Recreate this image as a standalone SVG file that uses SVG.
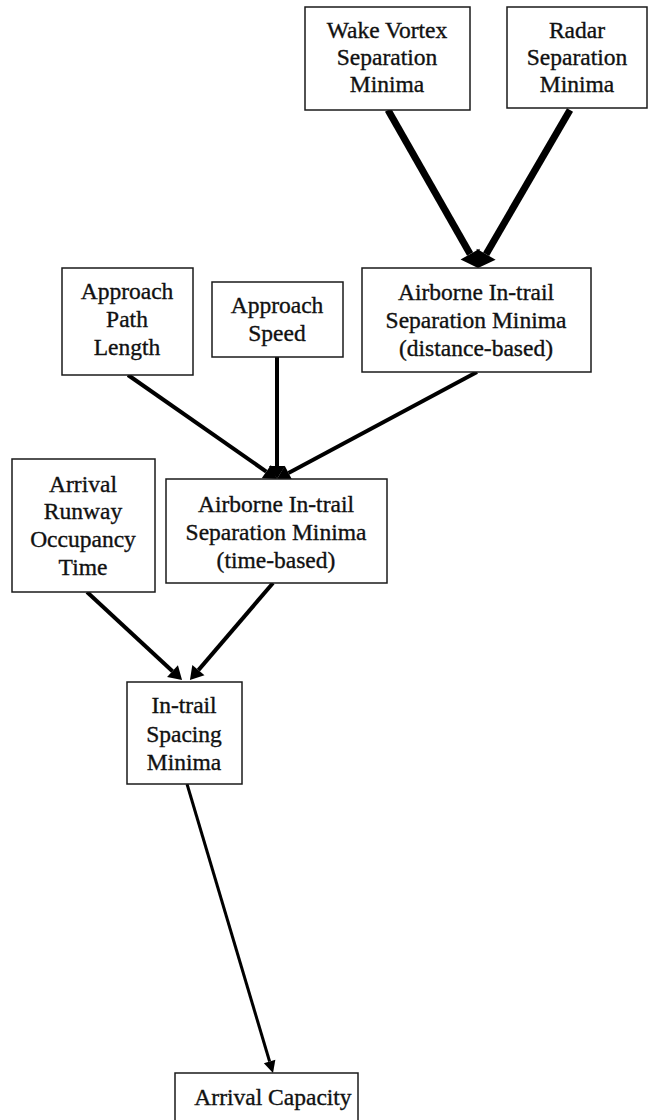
<svg xmlns="http://www.w3.org/2000/svg" width="650" height="1120" viewBox="0 0 650 1120">
  <style>
    .box { fill: #ffffff; stroke: #1a1a1a; stroke-width: 1.5; }
    .lbl { font-family: "Liberation Serif", "Times New Roman", serif; font-size: 23.5px; fill: #111111; stroke: #111111; stroke-width: 0.35; text-anchor: middle; }
    .thick { stroke: #000000; stroke-width: 7; fill: none; }
    .mid { stroke: #000000; stroke-width: 4; fill: none; }
    .thin { stroke: #000000; stroke-width: 3; fill: none; }
  </style>
  <defs>
    <marker id="headBig" markerUnits="userSpaceOnUse" viewBox="0 -11 16 22" refX="0" refY="0" markerWidth="16" markerHeight="22" orient="auto" overflow="visible">
      <path d="M0,-11 L16,0 L0,11 z" fill="#000000"/>
    </marker>
    <marker id="headMid" markerUnits="userSpaceOnUse" viewBox="0 -8 13 16" refX="0" refY="0" markerWidth="13" markerHeight="16" orient="auto" overflow="visible">
      <path d="M0,-8 L13,0 L0,8 z" fill="#000000"/>
    </marker>
    <marker id="headSmall" markerUnits="userSpaceOnUse" viewBox="0 -6 12 12" refX="0" refY="0" markerWidth="12" markerHeight="12" orient="auto" overflow="visible">
      <path d="M0,-6 L12,0 L0,6 z" fill="#000000"/>
    </marker>
  </defs>

  <rect width="650" height="1120" fill="#ffffff"/>

  <g id="connectors">
    <line class="thick" x1="388" y1="110" x2="470.1" y2="254.1" marker-end="url(#headBig)"/>
    <line class="thick" x1="570" y1="110" x2="486.1" y2="254.2" marker-end="url(#headBig)"/>
    <line class="mid" x1="128" y1="375" x2="266.3" y2="471.6" marker-end="url(#headMid)"/>
    <line class="mid" x1="277" y1="357" x2="277" y2="466" marker-end="url(#headMid)"/>
    <line class="mid" x1="477" y1="372" x2="288.5" y2="472.9" marker-end="url(#headMid)"/>
    <line class="mid" x1="87" y1="592" x2="172.5" y2="671.2" marker-end="url(#headMid)"/>
    <line class="mid" x1="273" y1="583" x2="198.4" y2="670.1" marker-end="url(#headMid)"/>
    <line class="thin" x1="187" y1="784" x2="269.6" y2="1061.5" marker-end="url(#headSmall)"/>
  </g>

  <g id="wake-vortex">
    <rect class="box" x="305" y="7" width="165" height="103"/>
    <text class="lbl" x="387" y="38">Wake Vortex</text>
    <text class="lbl" x="387" y="65">Separation</text>
    <text class="lbl" x="387" y="92">Minima</text>
  </g>

  <g id="radar">
    <rect class="box" x="507" y="7" width="140" height="101"/>
    <text class="lbl" x="577" y="38">Radar</text>
    <text class="lbl" x="577" y="65">Separation</text>
    <text class="lbl" x="577" y="92">Minima</text>
  </g>

  <g id="approach-path">
    <rect class="box" x="62" y="268" width="131" height="107"/>
    <text class="lbl" x="127" y="299">Approach</text>
    <text class="lbl" x="127" y="327">Path</text>
    <text class="lbl" x="127" y="355">Length</text>
  </g>

  <g id="approach-speed">
    <rect class="box" x="212" y="282" width="131" height="75"/>
    <text class="lbl" x="277" y="313">Approach</text>
    <text class="lbl" x="277" y="341">Speed</text>
  </g>

  <g id="distance-based">
    <rect class="box" x="362" y="268" width="229" height="104"/>
    <text class="lbl" x="476" y="300">Airborne In-trail</text>
    <text class="lbl" x="476" y="328">Separation Minima</text>
    <text class="lbl" x="476" y="356">(distance-based)</text>
  </g>

  <g id="runway-occupancy">
    <rect class="box" x="12" y="459" width="143" height="133"/>
    <text class="lbl" x="83" y="492">Arrival</text>
    <text class="lbl" x="83" y="519">Runway</text>
    <text class="lbl" x="83" y="547">Occupancy</text>
    <text class="lbl" x="83" y="575">Time</text>
  </g>

  <g id="time-based">
    <rect class="box" x="166" y="479" width="221" height="104"/>
    <text class="lbl" x="276" y="512">Airborne In-trail</text>
    <text class="lbl" x="276" y="540">Separation Minima</text>
    <text class="lbl" x="276" y="568">(time-based)</text>
  </g>

  <g id="in-trail-spacing">
    <rect class="box" x="127" y="682" width="115" height="102"/>
    <text class="lbl" x="184" y="713">In-trail</text>
    <text class="lbl" x="184" y="742">Spacing</text>
    <text class="lbl" x="184" y="770">Minima</text>
  </g>

  <g id="arrival-capacity">
    <rect class="box" x="175" y="1073" width="183" height="60"/>
    <text class="lbl" x="273" y="1105">Arrival Capacity</text>
  </g>
</svg>
